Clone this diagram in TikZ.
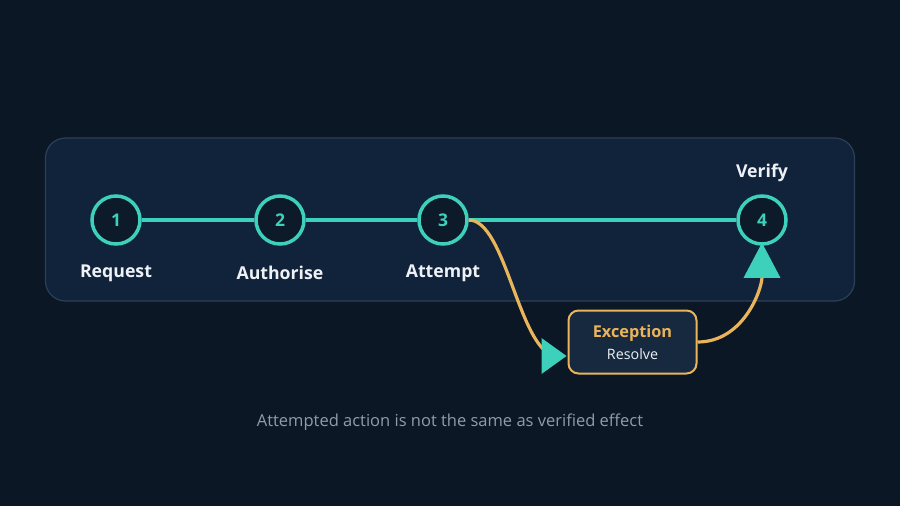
\documentclass[tikz,border=0pt]{standalone}
\usepackage{fontspec}
\setmainfont{Open Sans}
\usetikzlibrary{positioning}
\usetikzlibrary{arrows.meta}

\definecolor{bgdark}{HTML}{0B1725}
\definecolor{panelfill}{HTML}{11233A}
\definecolor{panelline}{HTML}{2B4058}
\definecolor{stepteal}{HTML}{3DD0BA}
\definecolor{stepfill}{HTML}{0C1A2A}
\definecolor{excorange}{HTML}{E9B45A}
\definecolor{excfill}{HTML}{16293F}
\definecolor{labelwhite}{HTML}{EEF2F6}
\definecolor{captiongrey}{HTML}{8E9DAE}

\tikzset{
  stepnode/.style={circle,draw=stepteal,line width=3.5pt,fill=stepfill,minimum size=48pt,inner sep=0pt,
    text=stepteal,font=\fontsize{17.5}{20}\selectfont\bfseries},
  steplabel/.style={text=labelwhite,font=\fontsize{17.7}{20}\selectfont\bfseries},
  flowline/.style={stepteal,line width=4pt},
  detour/.style={excorange,line width=3.2pt},
}

\begin{document}
\begin{tikzpicture}[x=1pt,y=-1pt]
  % Constants
  \pgfmathsetmacro\ly{220}
  % Boundary
  \fill[bgdark] (0,0) rectangle (900,506);
  \useasboundingbox (0,0) rectangle (900,506);
  % Panel
  \draw[panelline,fill=panelfill,line width=1.2pt,rounded corners=20pt] (45.5,138) rectangle (854.5,301);
  % Steps
  \node[stepnode] (req) at (116,\ly) {1};
  \node[stepnode] (auth) at (280,\ly) {2};
  \node[stepnode] (att) at (443,\ly) {3};
  \node[stepnode] (ver) at (762,\ly) {4};
  \node[steplabel] (reqlbl) at (116,273.5) {Request};
  \node[steplabel] (authlbl) at (280,273) {Authorise};
  \node[steplabel] (attlbl) at (443,273.5) {Attempt};
  \node[steplabel] (verlbl) at (762,173) {Verify};
  % Main line
  \draw[flowline] (req) -- (auth);
  \draw[flowline] (auth) -- (att);
  \draw[flowline] (att) -- (ver);
  % Exception
  \node[draw=excorange,line width=2pt,fill=excfill,rounded corners=10pt,minimum width=128pt,minimum height=63pt,inner sep=0pt,
    align=center] (exc) at (632.5,342)
    {{\color{excorange}\fontsize{16.3}{18}\selectfont\bfseries Exception}\\[6pt]{\color{labelwhite}\fontsize{14.3}{16}\selectfont Resolve}};
  \coordinate (excin) at ([xshift=-1pt,yshift=-14pt]exc.west);
  \coordinate (verin) at ([yshift=3pt]ver.south);
  % Detour
  \draw[detour] (att.east) .. controls +(37,0) and +(-36,-8) .. ([xshift=-12pt]excin);
  \fill[stepteal] (excin) -- ++(-25,-18) -- ++(0,36) -- cycle;
  \draw[detour,-{Triangle[length=35pt,width=36pt,color=stepteal]}] (exc.east) to[out=0,in=-90] (verin);
  % Caption
  \node[text=captiongrey,font=\fontsize{16.5}{19}\selectfont] (cap) at (450,422) {Attempted action is not the same as verified effect};
\end{tikzpicture}
\end{document}
